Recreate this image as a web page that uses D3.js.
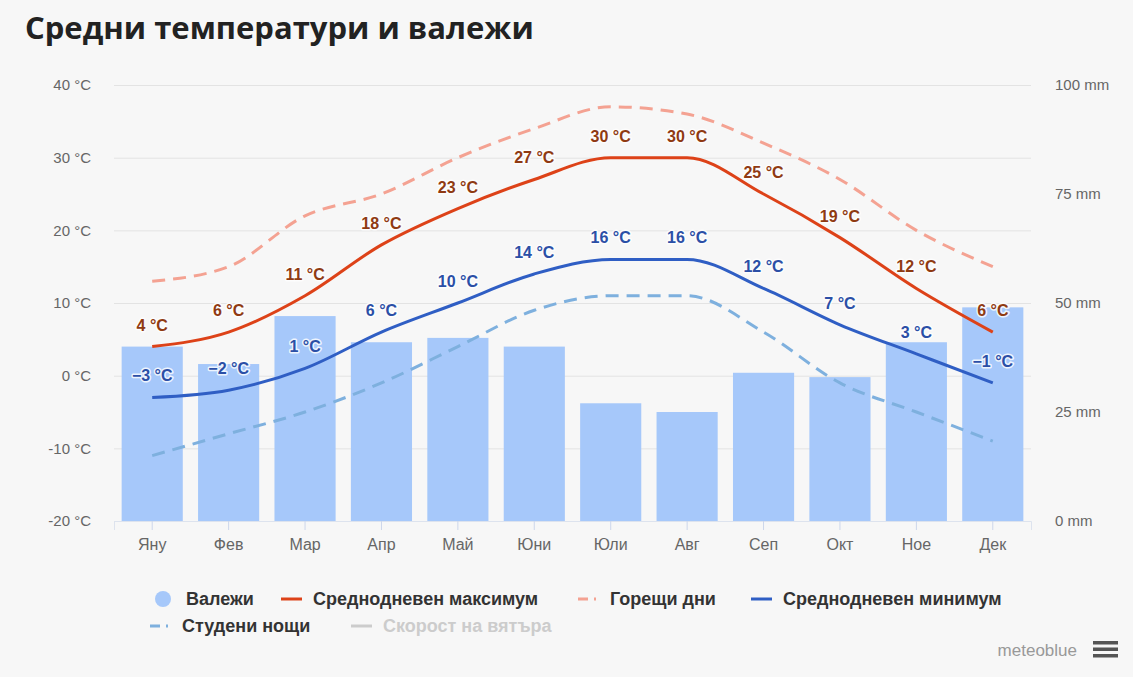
<!DOCTYPE html>
<html>
<head>
<meta charset="utf-8">
<script src="https://cdn.jsdelivr.net/npm/d3@7"></script>
<style>
  body { margin: 0; background: #f7f7f7; }
  svg { display: block; }
</style>
</head>
<body>
<div id="chart"></div>
<script>
// DATA
const months = ["Яну", "Фев", "Мар", "Апр", "Май", "Юни", "Юли", "Авг", "Сеп", "Окт", "Ное", "Дек"];
const precipitation = [40, 36, 47, 41, 42, 40, 27, 25, 34, 33, 41, 49];
const maxTemp = [4, 6, 11, 18, 23, 27, 30, 30, 25, 19, 12, 6];
const minTemp = [-3, -2, 1, 6, 10, 14, 16, 16, 12, 7, 3, -1];
const hotDays = [13, 15, 22, 25, 30, 34, 37, 36, 32, 27, 20, 15];
const coldNights = [-11, -8, -5, -1, 4, 9, 11, 11, 6, -1, -5, -9];
const tempTicks = [-20, -10, 0, 10, 20, 30, 40];
const precTicks = [0, 25, 50, 75, 100];

const WIDTH = 1133, HEIGHT = 677;
const PLOT = { LEFT: 114, RIGHT: 1031, TOP: 85, BOTTOM: 521 };
const FONT = "'Liberation Sans', Arial, sans-serif";

const svg = d3.select("#chart")
  .append("svg")
  .attr("width", WIDTH)
  .attr("height", HEIGHT);

svg.append("rect")
  .attr("width", WIDTH)
  .attr("height", HEIGHT)
  .attr("fill", "#f7f7f7");

// TITLE
svg.append("text")
  .attr("x", 25)
  .attr("y", 39)
  .attr("font-family", "'Open Sans', sans-serif")
  .attr("font-weight", "bold")
  .attr("font-size", "31px")
  .attr("fill", "#222")
  .text("Средни температури и валежи");

// SCALES
const x = d3.scaleBand()
  .domain(months)
  .range([PLOT.LEFT, PLOT.RIGHT])
  .paddingInner(0.2)
  .paddingOuter(0.1);
const cx = (m) => x(m) + x.bandwidth() / 2;

const yT = d3.scaleLinear().domain([-20, 40]).range([PLOT.BOTTOM, PLOT.TOP]);
const yP = d3.scaleLinear().domain([0, 100]).range([PLOT.BOTTOM, PLOT.TOP]);

// GRID
svg.append("g")
  .selectAll("line")
  .data(tempTicks)
  .enter()
  .append("line")
  .attr("x1", PLOT.LEFT)
  .attr("x2", PLOT.RIGHT)
  .attr("y1", (d) => yT(d) + 0.5)
  .attr("y2", (d) => yT(d) + 0.5)
  .attr("stroke", "#e3e3e3");

// AXES
const leftAxis = svg.append("g")
  .attr("transform", `translate(${PLOT.LEFT - 20}, 0)`)
  .call(d3.axisLeft(yT).tickValues(tempTicks).tickSize(0).tickFormat((d) => `${d} °C`))
  .call((g) => g.select(".domain").remove());
leftAxis.selectAll("text")
  .attr("font-family", FONT)
  .attr("font-size", "15px")
  .attr("fill", "#666");

const rightAxis = svg.append("g")
  .attr("transform", `translate(${PLOT.RIGHT + 21}, 0)`)
  .call(d3.axisRight(yP).tickValues(precTicks).tickSize(0).tickFormat((d) => `${d} mm`))
  .call((g) => g.select(".domain").remove());
rightAxis.selectAll("text")
  .attr("font-family", FONT)
  .attr("font-size", "15px")
  .attr("fill", "#666");

const bottomAxis = svg.append("g")
  .attr("transform", `translate(0, ${PLOT.BOTTOM})`)
  .call(d3.axisBottom(x).tickSize(9).tickPadding(9));
bottomAxis.select(".domain").attr("stroke", "#dde3ee");
bottomAxis.selectAll(".tick line").attr("stroke", "#ccd6eb");
bottomAxis.selectAll("text")
  .attr("font-family", FONT)
  .attr("font-size", "16px")
  .attr("fill", "#666");

// BARS
svg.append("g")
  .selectAll("rect")
  .data(months)
  .enter()
  .append("rect")
  .attr("x", (d) => x(d))
  .attr("y", (d, i) => yP(precipitation[i]))
  .attr("width", x.bandwidth())
  .attr("height", (d, i) => yP(0) - yP(precipitation[i]))
  .attr("fill", "#a6c8fa");

// LINES
const line = (values) => d3.line()
  .x((d, i) => cx(months[i]))
  .y((d) => yT(d))
  .curve(d3.curveMonotoneX)(values);

svg.append("path").attr("d", line(hotDays))
  .attr("fill", "none").attr("stroke", "#f4a292").attr("stroke-width", 3)
  .attr("stroke-dasharray", "13,8");
svg.append("path").attr("d", line(coldNights))
  .attr("fill", "none").attr("stroke", "#7eb0de").attr("stroke-width", 3)
  .attr("stroke-dasharray", "13,8");
svg.append("path").attr("d", line(maxTemp))
  .attr("fill", "none").attr("stroke", "#dd4218").attr("stroke-width", 3);
svg.append("path").attr("d", line(minTemp))
  .attr("fill", "none").attr("stroke", "#2f5ec4").attr("stroke-width", 3);

// DATA LABELS
const fmt = (d) => `${d < 0 ? "\u2212" + Math.abs(d) : d} °C`;
function labels(values, color) {
  const g = svg.append("g")
    .attr("font-family", FONT)
    .attr("font-weight", "bold")
    .attr("font-size", "16px")
    .attr("text-anchor", "middle");
  g.selectAll("text.halo")
    .data(values)
    .enter()
    .append("text")
    .attr("x", (d, i) => cx(months[i]))
    .attr("y", (d) => yT(d) - 16)
    .attr("stroke", "#fff")
    .attr("stroke-width", 3)
    .attr("stroke-linejoin", "round")
    .attr("fill", "#fff")
    .attr("opacity", 0.8)
    .text(fmt);
  g.selectAll("text.lbl")
    .data(values)
    .enter()
    .append("text")
    .attr("x", (d, i) => cx(months[i]))
    .attr("y", (d) => yT(d) - 16)
    .attr("fill", color)
    .text(fmt);
}
labels(maxTemp, "#8f3a12");
labels(minTemp, "#2b4fa6");

// LEGEND
const legendItems = [
  { name: "Валежи", type: "circle", color: "#a6c8fa", x: 154, y: 599 },
  { name: "Среднодневен максимум", type: "line", color: "#dd4218", x: 281, y: 599 },
  { name: "Горещи дни", type: "dash", color: "#f4a292", x: 578, y: 599 },
  { name: "Среднодневен минимум", type: "line", color: "#2f5ec4", x: 751, y: 599 },
  { name: "Студени нощи", type: "dash", color: "#7eb0de", x: 150, y: 626 },
  { name: "Скорост на вятъра", type: "line", color: "#cccccc", x: 351, y: 626, off: true }
];
const legend = svg.append("g");
const item = legend.selectAll("g")
  .data(legendItems)
  .enter()
  .append("g")
  .attr("transform", (d) => `translate(${d.x}, ${d.y})`);
item.filter((d) => d.type === "circle")
  .append("circle")
  .attr("cx", 9).attr("cy", 0).attr("r", 8)
  .attr("fill", (d) => d.color);
item.filter((d) => d.type !== "circle")
  .append("line")
  .attr("x1", 0).attr("x2", 21).attr("y1", 0).attr("y2", 0)
  .attr("stroke", (d) => d.color)
  .attr("stroke-width", 3)
  .attr("stroke-dasharray", (d) => d.type === "dash" ? "10,6,2,6" : null);
item.append("text")
  .attr("x", 32)
  .attr("y", 6)
  .attr("font-family", FONT)
  .attr("font-weight", "bold")
  .attr("font-size", "18px")
  .attr("fill", (d) => d.off ? "#cccccc" : "#333")
  .text((d) => d.name);

// CREDITS
svg.append("text")
  .attr("x", 1077)
  .attr("y", 656)
  .attr("text-anchor", "end")
  .attr("font-family", FONT)
  .attr("font-size", "17px")
  .attr("fill", "#999")
  .text("meteoblue");
svg.append("g")
  .selectAll("rect")
  .data([0, 1, 2])
  .enter()
  .append("rect")
  .attr("x", 1093)
  .attr("y", (d) => 641 + d * 6.5)
  .attr("width", 25)
  .attr("height", 3.5)
  .attr("fill", "#555");
</script>
</body>
</html>
